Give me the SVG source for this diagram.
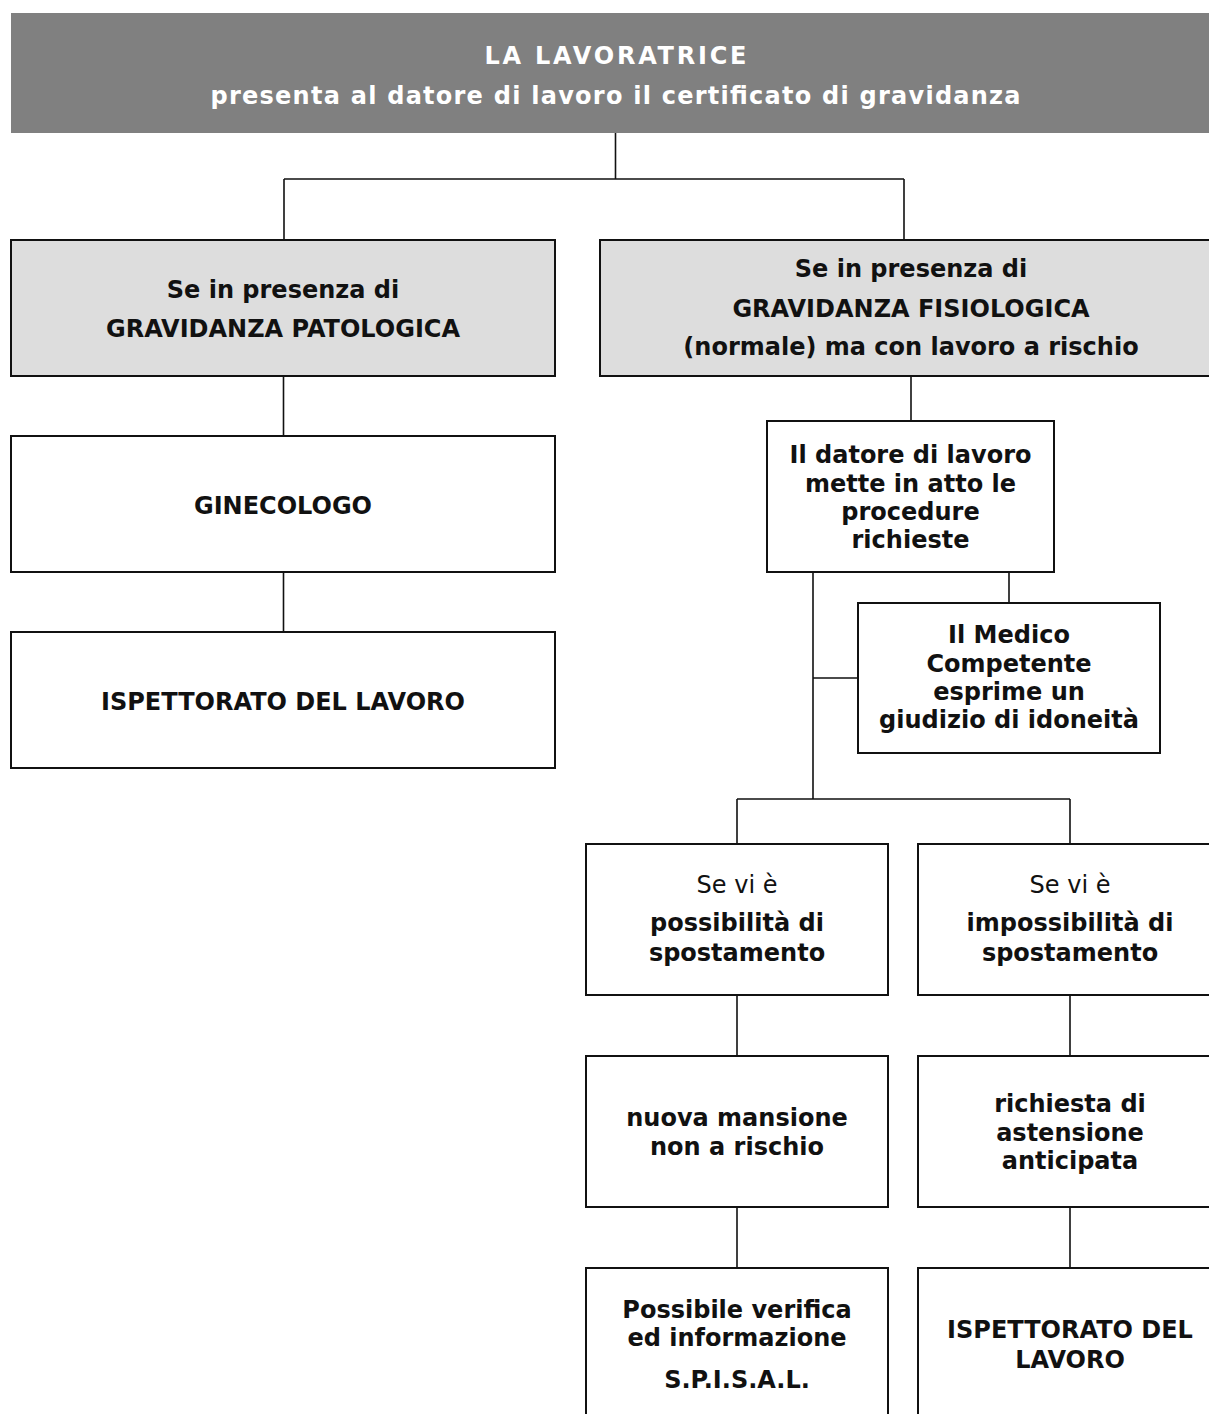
<svg xmlns="http://www.w3.org/2000/svg" width="1209" height="1414" viewBox="0 0 1209 1414">
<style>
.box{fill:#ffffff;stroke:#111;stroke-width:2}
.gray{fill:#dddddd;stroke:#111;stroke-width:2}
.conn{stroke:#111;stroke-width:1.6;fill:none}
text{font-family:"DejaVu Sans",Verdana,sans-serif;font-size:24px;fill:#111;text-anchor:middle}
.b{font-weight:bold}
.r{font-weight:normal}
.hdr{fill:#ffffff;font-weight:bold;font-size:24px}
</style>
<rect x="0" y="0" width="1209" height="1414" fill="#ffffff"/>
<g id="connectors">
<path class="conn" d="M615.5 133 V179 M284 179 H904 M284 179 V240 M904 179 V240"/>
<path class="conn" d="M283.5 376 V436 M283.5 572 V632"/>
<path class="conn" d="M911 376 V421"/>
<path class="conn" d="M813 572 V799 M813 678 H858 M1009 572 V603"/>
<path class="conn" d="M737 799 H1070 M737 799 V844 M1070 799 V844"/>
<path class="conn" d="M737 995 V1056 M1070 995 V1056 M737 1207 V1268 M1070 1207 V1268"/>
</g>
<g id="header">
<rect x="11" y="13" width="1210" height="120" fill="#808080"/>
<text class="hdr" x="615.5" y="64" textLength="262" lengthAdjust="spacing">LA LAVORATRICE</text>
<text class="hdr" x="615.5" y="104" textLength="810" lengthAdjust="spacing">presenta al datore di lavoro il certificato di gravidanza</text>
</g>
<g id="patologica">
<rect class="gray" x="11" y="240" width="544" height="136"/>
<text class="b" x="283" y="298">Se in presenza di</text>
<text class="b" x="283" y="337">GRAVIDANZA PATOLOGICA</text>
</g>
<g id="ginecologo">
<rect class="box" x="11" y="436" width="544" height="136"/>
<text class="b" x="283" y="514">GINECOLOGO</text>
</g>
<g id="ispettorato1">
<rect class="box" x="11" y="632" width="544" height="136"/>
<text class="b" x="283" y="710">ISPETTORATO DEL LAVORO</text>
</g>
<g id="fisiologica">
<rect class="gray" x="600" y="240" width="622" height="136"/>
<text class="b" x="911" y="277">Se in presenza di</text>
<text class="b" x="911" y="317">GRAVIDANZA FISIOLOGICA</text>
<text class="b" x="911" y="355">(normale) ma con lavoro a rischio</text>
</g>
<g id="datore">
<rect class="box" x="767" y="421" width="287" height="151"/>
<text class="b" x="910.5" y="463">Il datore di lavoro</text>
<text class="b" x="910.5" y="492">mette in atto le</text>
<text class="b" x="910.5" y="520">procedure</text>
<text class="b" x="910.5" y="548">richieste</text>
</g>
<g id="medico">
<rect class="box" x="858" y="603" width="302" height="150"/>
<text class="b" x="1009" y="643">Il Medico</text>
<text class="b" x="1009" y="672">Competente</text>
<text class="b" x="1009" y="700">esprime un</text>
<text class="b" x="1009" y="728">giudizio di idoneità</text>
</g>
<g id="possibilita">
<rect class="box" x="586" y="844" width="302" height="151"/>
<text class="r" x="737" y="893">Se vi è</text>
<text class="b" x="737" y="931">possibilità di</text>
<text class="b" x="737" y="961">spostamento</text>
</g>
<g id="impossibilita">
<rect class="box" x="918" y="844" width="304" height="151"/>
<text class="r" x="1070" y="893">Se vi è</text>
<text class="b" x="1070" y="931">impossibilità di</text>
<text class="b" x="1070" y="961">spostamento</text>
</g>
<g id="mansione">
<rect class="box" x="586" y="1056" width="302" height="151"/>
<text class="b" x="737" y="1126">nuova mansione</text>
<text class="b" x="737" y="1155">non a rischio</text>
</g>
<g id="astensione">
<rect class="box" x="918" y="1056" width="304" height="151"/>
<text class="b" x="1070" y="1112">richiesta di</text>
<text class="b" x="1070" y="1141">astensione</text>
<text class="b" x="1070" y="1169">anticipata</text>
</g>
<g id="spisal">
<rect class="box" x="586" y="1268" width="302" height="170"/>
<text class="b" x="737" y="1318">Possibile verifica</text>
<text class="b" x="737" y="1346">ed informazione</text>
<text class="b" x="737" y="1388">S.P.I.S.A.L.</text>
</g>
<g id="ispettorato2">
<rect class="box" x="918" y="1268" width="304" height="170"/>
<text class="b" x="1070" y="1338">ISPETTORATO DEL</text>
<text class="b" x="1070" y="1368">LAVORO</text>
</g>
</svg>
